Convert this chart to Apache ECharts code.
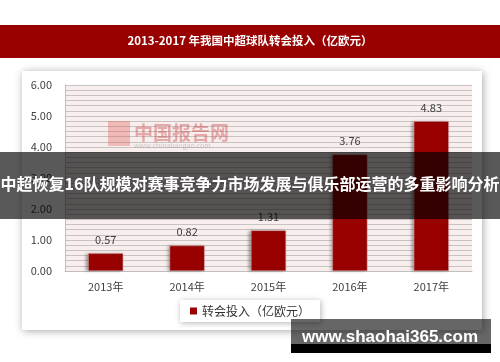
<!DOCTYPE html>
<html><head><meta charset="utf-8">
<script src="https://cdn.jsdelivr.net/npm/echarts@6/dist/echarts.min.js"></script>
<style>html,body{margin:0;padding:0;background:#fff}#c{width:500px;height:362px}</style>
</head><body><div id="c"></div>
<script>
const titleText = '2013-2017 年我国中超球队转会投入（亿欧元）';
const categories = ['2013年', '2014年', '2015年', '2016年', '2017年'];
const seriesName = '转会投入（亿欧元）';
const values = [0.57, 0.82, 1.31, 3.76, 4.83];
const yTicks = [0, 1, 2, 3, 4, 5, 6];
const overlayText = '中超恢复16队规模对赛事竞争力市场发展与俱乐部运营的多重影响分析';
const siteText = 'www.shaohai365.com';
const logoText = '中国报告网';
const logoUrl = 'www.chinabaogao.com';

const FONT = "'Noto Sans CJK SC', sans-serif";
const chart = echarts.init(document.getElementById('c'));
chart.setOption({
  animation: false,
  textStyle: { fontFamily: FONT },
  graphic: [
    { type: 'rect', z: -10, shape: { x: 0, y: 25, width: 500, height: 33 }, style: { fill: '#990000' } },
    { type: 'text', z: 10, x: 250, y: 41, style: { text: titleText, fill: '#fff', font: "bold 11.5px " + FONT, textAlign: 'center', textVerticalAlign: 'middle' } },
    { type: 'rect', z: -10, shape: { x: 22, y: 71, width: 460, height: 259 }, style: { fill: '#fff', shadowBlur: 8, shadowColor: 'rgba(0,0,0,0.35)', shadowOffsetX: 1, shadowOffsetY: 1 } },
    { type: 'rect', z: 1, shape: { x: 108, y: 121, width: 22, height: 25 }, style: { fill: 'rgba(220,90,80,0.35)' } },
    { type: 'text', z: 1, x: 134, y: 133, style: { text: logoText, fill: 'rgba(200,60,60,0.4)', font: "bold 19px " + FONT, textVerticalAlign: 'middle' } },
    { type: 'text', z: 1, x: 134, y: 145, style: { text: logoUrl, fill: 'rgba(120,120,120,0.35)', font: "7px " + FONT, textVerticalAlign: 'middle' } },
    { type: 'rect', z: 50, shape: { x: 0, y: 152, width: 500, height: 67 }, style: { fill: 'rgba(0,0,0,0.65)' } },
    { type: 'text', z: 51, x: 250, y: 184, style: { text: overlayText, fill: '#fff', font: "bold 16px " + FONT, textAlign: 'center', textVerticalAlign: 'middle' } },
    { type: 'rect', z: 50, shape: { x: 291, y: 319, width: 200, height: 25 }, style: { fill: 'rgba(0,0,0,0.6)' } },
    { type: 'rect', z: 50, shape: { x: 291, y: 344, width: 200, height: 9 }, style: { fill: '#000' } },
    { type: 'text', z: 51, x: 390, y: 337, style: { text: siteText, fill: '#fff', font: "bold 17px 'Liberation Sans', sans-serif", textAlign: 'center', textVerticalAlign: 'middle' } }
  ],
  grid: { left: 65, right: 28, top: 85, bottom: 91, show: true, backgroundColor: '#f9eeee', borderWidth: 0 },
  legend: {
    left: 180, top: 300, padding: [5, 10], itemWidth: 7, itemHeight: 7, icon: 'rect',
    itemStyle: { borderWidth: 0, shadowBlur: 0 },
    backgroundColor: '#fff', shadowBlur: 6, shadowColor: 'rgba(0,0,0,0.3)', shadowOffsetX: 1, shadowOffsetY: 1,
    textStyle: { fontSize: 12, color: '#333', fontFamily: FONT },
    data: [seriesName]
  },
  xAxis: {
    type: 'category', data: categories,
    axisLine: { lineStyle: { color: '#bfbfbf' } }, axisTick: { show: false },
    axisLabel: { color: '#404040', fontSize: 11, margin: 10 }
  },
  yAxis: {
    type: 'value', min: yTicks[0], max: yTicks[yTicks.length - 1], interval: 1,
    axisLine: { show: true, lineStyle: { color: '#bfbfbf' } }, axisTick: { show: false },
    axisLabel: { color: '#404040', fontSize: 11, margin: 13, formatter: v => v.toFixed(2) },
    splitLine: { lineStyle: { color: '#c9c2c2' } },
    minorTick: { show: false, splitNumber: 6 },
    minorSplitLine: { show: true, lineStyle: { color: '#c9c2c2' } }
  },
  series: [{
    type: 'bar', name: seriesName, data: values, barWidth: '43%',
    itemStyle: { color: '#990000', borderColor: '#d9a0a0', borderWidth: 0.5, shadowBlur: 3, shadowColor: 'rgba(0,0,0,0.35)', shadowOffsetX: -2 },
    label: { show: true, position: 'top', distance: 8, color: '#404040', fontSize: 11, formatter: p => p.value.toFixed(2) }
  }]
});
</script></body></html>
